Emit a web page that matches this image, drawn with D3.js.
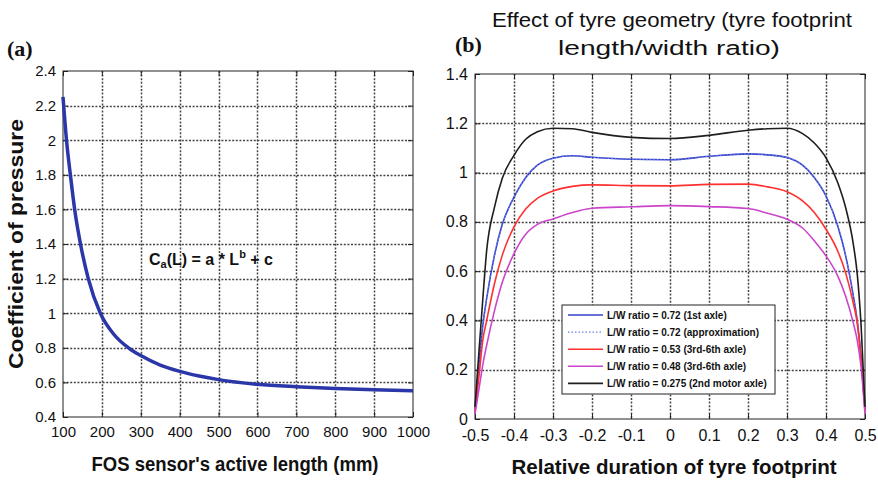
<!DOCTYPE html>
<html>
<head>
<meta charset="utf-8">
<script src="https://cdn.jsdelivr.net/npm/d3@7"></script>
<style>
  body { margin: 0; background: #fff; }
  svg { display: block; }
  text { font-family: Arial, "Liberation Sans", sans-serif; fill: #111; }
</style>
</head>
<body>
<svg id="fig" width="878" height="481"></svg>
<script>
// ---- Panel (a): coefficient of pressure vs. FOS sensor active length ----
const sensorLength = [100, 109, 120, 130, 145, 165, 196, 230, 270, 300, 350, 400, 450, 500, 600, 700, 800, 900, 1000];
const pressureCoef = [2.25, 2.0, 1.78, 1.6, 1.4, 1.2, 1.0, 0.88, 0.797, 0.755, 0.70, 0.664, 0.637, 0.616, 0.589, 0.575, 0.565, 0.557, 0.552];
const lengthTicks = [100, 200, 300, 400, 500, 600, 700, 800, 900, 1000];
const coefTicks = [0.4, 0.6, 0.8, 1, 1.2, 1.4, 1.6, 1.8, 2, 2.2, 2.4];

// ---- Panel (b): pressure distribution along the tyre footprint ----
const footprintPos = [-0.5, -0.49, -0.48, -0.47, -0.45, -0.43, -0.4, -0.37, -0.34, -0.3, -0.25, -0.2, -0.1, 0,
                      0.1, 0.2, 0.25, 0.3, 0.34, 0.37, 0.4, 0.43, 0.45, 0.47, 0.48, 0.49, 0.5];
const ratio072 = [0.04, 0.22, 0.38, 0.49, 0.665, 0.79, 0.90, 0.98, 1.03, 1.058, 1.068, 1.062, 1.054, 1.052,
                  1.066, 1.076, 1.072, 1.061, 1.03, 0.98, 0.905, 0.784, 0.665, 0.50, 0.40, 0.25, 0.04];
const ratio072Approx = [0.04, 0.22, 0.38, 0.49, 0.665, 0.79, 0.90, 0.98, 1.03, 1.058, 1.068, 1.062, 1.054, 1.052,
                        1.066, 1.076, 1.072, 1.061, 1.03, 0.98, 0.905, 0.784, 0.665, 0.50, 0.40, 0.25, 0.04];
const ratio053 = [0.03, 0.17, 0.32, 0.40, 0.55, 0.665, 0.78, 0.852, 0.895, 0.925, 0.944, 0.95, 0.947, 0.946,
                  0.952, 0.953, 0.942, 0.922, 0.885, 0.838, 0.77, 0.682, 0.595, 0.47, 0.39, 0.24, 0.03];
const ratio048 = [0.02, 0.12, 0.22, 0.30, 0.44, 0.555, 0.671, 0.75, 0.79, 0.812, 0.838, 0.855, 0.861, 0.866,
                  0.862, 0.854, 0.835, 0.811, 0.775, 0.723, 0.662, 0.581, 0.50, 0.39, 0.32, 0.21, 0.02];
const ratio0275 = [0.05, 0.27, 0.486, 0.685, 0.86, 0.977, 1.07, 1.135, 1.166, 1.18, 1.178, 1.163, 1.143, 1.138,
                   1.151, 1.172, 1.178, 1.18, 1.158, 1.12, 1.06, 0.96, 0.86, 0.71, 0.59, 0.38, 0.05];
const seriesLabels = [
  "L/W ratio = 0.72 (1st axle)",
  "L/W ratio = 0.72 (approximation)",
  "L/W ratio = 0.53 (3rd-6th axle)",
  "L/W ratio = 0.48 (3rd-6th axle)",
  "L/W ratio = 0.275 (2nd motor axle)"
];
const posTicks = [-0.5, -0.4, -0.3, -0.2, -0.1, 0, 0.1, 0.2, 0.3, 0.4, 0.5];
const pressTicks = [0, 0.2, 0.4, 0.6, 0.8, 1, 1.2, 1.4];

const svg = d3.select("#fig");
const fmt = d => String(+d.toFixed(2));
const gridStyle = { color: "#444444", width: 1.5, dash: "2,1.6" };

// Boxed axes with dotted grid and inward ticks on all four sides
function drawAxes(x, y, xt, yt, tickFont, padX) {
  const [xa, xb] = x.range();
  const [yb, ya] = y.range();
  const g = svg.append("g");

  const grid = g.append("g");
  const addGrid = (x1, y1, x2, y2) => grid.append("line")
    .attr("x1", x1).attr("y1", y1).attr("x2", x2).attr("y2", y2)
    .style("stroke", gridStyle.color).style("stroke-width", gridStyle.width + "px")
    .style("stroke-dasharray", gridStyle.dash);
  xt.slice(1, -1).forEach(v => { const px = Math.round(x(v)) + 0.5; addGrid(px, ya, px, yb); });
  yt.slice(1, -1).forEach(v => { const py = Math.round(y(v)) + 0.5; addGrid(xa, py, xb, py); });

  const bottom = g.append("g").attr("transform", `translate(0,${yb})`)
    .call(d3.axisBottom(x).tickValues(xt).tickSize(-5).tickPadding(padX).tickFormat(fmt));
  const left = g.append("g").attr("transform", `translate(${xa},0)`)
    .call(d3.axisLeft(y).tickValues(yt).tickSize(-5).tickPadding(7).tickFormat(fmt));
  const top = g.append("g").attr("transform", `translate(0,${ya})`)
    .call(d3.axisTop(x).tickValues(xt).tickSize(-5).tickFormat(""));
  const right = g.append("g").attr("transform", `translate(${xb},0)`)
    .call(d3.axisRight(y).tickValues(yt).tickSize(-5).tickFormat(""));

  [bottom, left, top, right].forEach(a => {
    a.select(".domain").remove();
    a.selectAll(".tick line").style("stroke", "#222");
  });
  [bottom, left].forEach(a => a.selectAll("text")
    .style("font-family", "Arial, 'Liberation Sans', sans-serif")
    .style("font-size", tickFont + "px").attr("fill", "#111"));

  g.append("rect").attr("x", xa).attr("y", ya).attr("width", xb - xa).attr("height", yb - ya)
    .attr("fill", "none").attr("stroke", "#222").attr("stroke-width", 1);
  return g;
}

function label(txt, x, y, size, weight, len, rotate) {
  const t = svg.append("text")
    .attr("text-anchor", "middle")
    .attr("font-size", size).attr("font-weight", weight)
    .attr("transform", `translate(${x},${y})` + (rotate ? ` rotate(${rotate})` : ""))
    .text(txt);
  if (len) t.attr("textLength", len).attr("lengthAdjust", "spacingAndGlyphs");
  return t;
}

// ================= Panel (a) =================
const xA = d3.scaleLinear().domain([100, 1000]).range([63, 413]);
const yA = d3.scaleLinear().domain([0.4, 2.4]).range([417, 71]);
drawAxes(xA, yA, lengthTicks, coefTicks, 15, 9);

svg.append("path")
  .datum(sensorLength.map((L, i) => [L, pressureCoef[i]]))
  .attr("fill", "none").attr("stroke", "#2b36a8").attr("stroke-width", 3.5)
  .attr("d", d3.line().x(d => xA(d[0])).y(d => yA(d[1])).curve(d3.curveMonotoneX));

// fitted-model annotation
const eq = svg.append("text").attr("x", 149).attr("y", 265)
  .attr("font-size", 16).attr("font-weight", "bold").attr("fill", "#222");
eq.append("tspan").text("C");
eq.append("tspan").attr("font-size", 11).attr("dy", 3).text("a");
eq.append("tspan").attr("dy", -3).text("(L) = a * L");
eq.append("tspan").attr("font-size", 11).attr("dy", -7).text("b");
eq.append("tspan").attr("dy", 7).text(" + c");

label("FOS sensor's active length (mm)", 235, 471, 20, "bold", 287);
label("Coefficient of pressure", 23, 244, 20, "bold", 250, -90);
svg.append("text").attr("x", 7).attr("y", 56)
  .style("font-family", "'Liberation Serif', 'Times New Roman', serif")
  .attr("font-size", 22).attr("font-weight", "bold").text("(a)");

// ================= Panel (b) =================
const xB = d3.scaleLinear().domain([-0.5, 0.5]).range([475, 865]);
const yB = d3.scaleLinear().domain([0, 1.4]).range([419, 74]);
drawAxes(xB, yB, posTicks, pressTicks, 16, 11);

const series = [
  { values: ratio072, color: "#3340c8", dash: null, width: 1.6 },
  { values: ratio072Approx, color: "#6f7fe8", dash: "1.5,2", width: 1.2 },
  { values: ratio053, color: "#ff3030", dash: null, width: 1.6 },
  { values: ratio048, color: "#cc44cc", dash: null, width: 1.6 },
  { values: ratio0275, color: "#1e1e1e", dash: null, width: 1.6 }
];
const lineB = d3.line().x(d => xB(d[0])).y(d => yB(d[1])).curve(d3.curveMonotoneX);
series.forEach(s => {
  svg.append("path")
    .datum(footprintPos.map((p, i) => [p, s.values[i]]))
    .attr("fill", "none").attr("stroke", s.color).attr("stroke-width", s.width)
    .attr("stroke-dasharray", s.dash)
    .attr("d", lineB);
});

// legend
const lg = svg.append("g").attr("transform", "translate(562,305)");
lg.append("rect").attr("width", 213).attr("height", 89)
  .attr("fill", "#fff").attr("stroke", "#222").attr("stroke-width", 1);
series.forEach((s, i) => {
  const yy = 10 + i * 17.1;
  lg.append("line").attr("x1", 6).attr("x2", 41).attr("y1", yy).attr("y2", yy)
    .attr("stroke", s.color).attr("stroke-width", s.width).attr("stroke-dasharray", s.dash);
  lg.append("text").attr("x", 45).attr("y", yy + 3.5)
    .attr("font-size", 10).attr("font-weight", "bold").attr("fill", "#222")
    .text(seriesLabels[i]);
});

label("Effect of tyre geometry (tyre footprint", 672, 27, 20, "normal", 360);
label("length/width ratio)", 669, 55, 20, "normal", 222);
label("Relative duration of tyre footprint", 674, 474, 20, "bold", 325);
svg.append("text").attr("x", 455).attr("y", 52)
  .style("font-family", "'Liberation Serif', 'Times New Roman', serif")
  .attr("font-size", 22).attr("font-weight", "bold").text("(b)");
</script>
</body>
</html>
